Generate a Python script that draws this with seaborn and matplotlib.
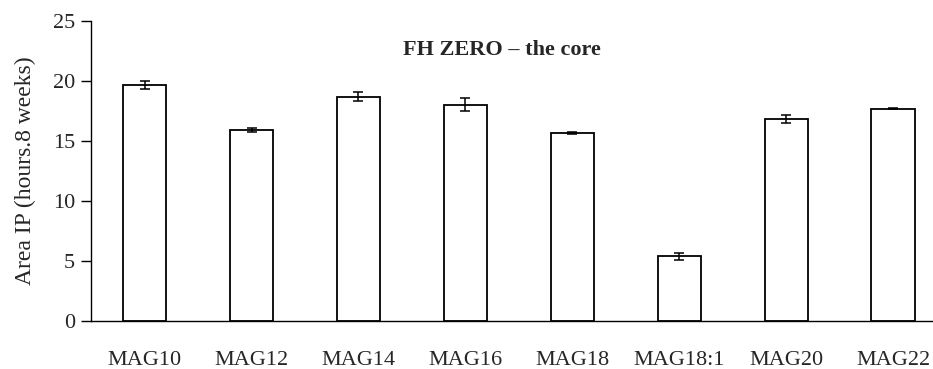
import matplotlib
matplotlib.use("Agg")
import matplotlib.pyplot as plt
import seaborn as sns
import pandas as pd

categories = ["MAG10", "MAG12", "MAG14", "MAG16", "MAG18", "MAG18:1", "MAG20", "MAG22"]
values = [19.67, 15.88, 18.68, 18.01, 15.65, 5.40, 16.79, 17.68]
errors = [0.33, 0.15, 0.40, 0.57, 0.05, 0.30, 0.33, 0.07]
yticks = [0, 5, 10, 15, 20, 25]
title = "FH ZERO \u2013 the core"
ylabel = "Area IP (hours.8 weeks)"

sns.set_style("white")
plt.rcParams['font.family'] = ['Liberation Serif', 'DejaVu Serif']

df = pd.DataFrame({"cat": categories, "val": values})

fig = plt.figure(figsize=(9.33, 3.69), dpi=100)
ax = fig.add_axes([0.097, 0.130, 0.903, 0.814])

sns.barplot(data=df, x="cat", y="val", ax=ax, color="white", edgecolor="black",
            linewidth=1.3, width=0.41, errorbar=None, saturation=1)
ax.errorbar(range(len(categories)), values, yerr=errors, fmt="none", ecolor="black",
            elinewidth=1.1, capsize=3.6, capthick=1.1)

ax.set_xlim(-0.505, 7.37)
ax.set_ylim(0, 25)
ax.set_yticks(yticks)
ax.set_xlabel("")
ax.set_ylabel(ylabel, fontsize=17, labelpad=12)
ax.tick_params(axis="y", which="both", left=True, length=7, width=1, direction="out",
               labelsize=16, pad=4, color="black")
ax.tick_params(axis="x", bottom=False, labelsize=16, pad=18)
for s in ["top", "right"]:
    ax.spines[s].set_visible(False)
for s in ["left", "bottom"]:
    ax.spines[s].set_color("black")
    ax.spines[s].set_linewidth(1.0)

ax.text((502 - 90) / 843, (369 - 50 - 48) / 300.4, title, transform=ax.transAxes,
        ha="center", va="center", fontsize=16, fontweight="bold")

fig.savefig("out.png", dpi=100)
